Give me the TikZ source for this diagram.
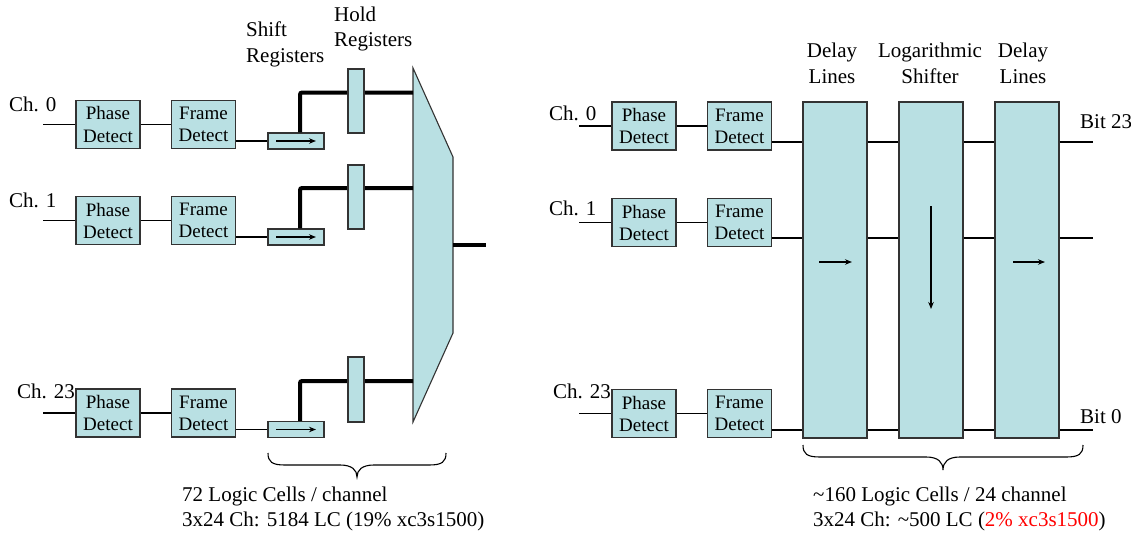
\documentclass[tikz,border=0pt]{standalone}
\usepackage{fontspec}
\setmainfont{Liberation Serif}
\usetikzlibrary{arrows.meta}
\definecolor{boxc}{HTML}{B9E0E3}
\definecolor{hotred}{HTML}{FF0000}
\begin{document}
\begin{tikzpicture}[x=1pt,y=-1pt,
 blk/.style={draw=black!80, fill=boxc, line width=1.1pt, inner sep=0pt, align=center, font=\fontsize{19}{22}\selectfont},
 det/.style={blk, minimum width=64pt, minimum height=48pt},
 sreg/.style={blk, minimum width=56pt, minimum height=16pt},
 hreg/.style={blk, minimum width=16pt, minimum height=64pt},
 tall/.style={blk, minimum width=64pt, minimum height=336pt},
 muxst/.style={draw=black!80, fill=boxc, line width=1.1pt},
 wire/.style={line width=1.2pt},
 bus/.style={line width=4pt, rounded corners=2pt},
 lbl/.style={font=\fontsize{21}{26}\selectfont, inner sep=0pt},
 flow/.style={line width=1.2pt, -{Stealth[length=7pt,width=5.5pt]}},
]
\useasboundingbox (0,0) rectangle (1131,535);

% ================= LEFT PANEL =================
% headers
\node[lbl, anchor=base west] (shA) at (246,37) {Shift};
\node[lbl, anchor=base west] (shB) at (246,63) {Registers};
\node[lbl, anchor=base west] (hoA) at (334,22) {Hold};
\node[lbl, anchor=base west] (hoB) at (334,47) {Registers};

% channel labels
\node[lbl, anchor=base west] (lc0) at (9,111) {Ch. 0};
\node[lbl, anchor=base west] (lc1) at (9,207.5) {Ch. 1};
\node[lbl, anchor=base west] (lc23) at (17,398) {Ch. 23};

% input coordinates
\coordinate (LI0) at (43,124.5);
\coordinate (LI1) at (43,220.5);
\coordinate (LI23) at (43,413);

% detectors
\node[det] (LP0) at (108,124.5) {Phase\\Detect};
\node[det] (LF0) at (203.5,124.5) {Frame\\Detect};
\node[det] (LP1) at (108,220.5) {Phase\\Detect};
\node[det] (LF1) at (203.5,220.5) {Frame\\Detect};
\node[det] (LP23) at (108,413) {Phase\\Detect};
\node[det] (LF23) at (203.5,413) {Frame\\Detect};

% shift registers
\node[sreg] (S0) at (296,141) {};
\node[sreg] (S1) at (296,237) {};
\node[sreg] (S23) at (296,429.5) {};

% mux
\draw[muxst] (413,68) -- (453,157) -- (453,333) -- (413,422) -- cycle;
\coordinate (M0) at (413,92.5);
\coordinate (M1) at (413,188);
\coordinate (M23) at (413,381);
\coordinate (Mout) at (453,245);
\coordinate (Out) at (486,245);

% wires
\foreach \r in {0,1,23}{
  \draw[wire] (LI\r) -- (LP\r.west);
  \draw[wire] (LP\r.east) -- (LF\r.west);
  \draw[wire] (LF\r.east |- S\r.west) -- (S\r.west);
  \draw[flow] ([xshift=-20pt]S\r.center) -- ([xshift=20pt]S\r.center);
  \draw[bus] ([xshift=4pt]S\r.north) |- (M\r);
}
\draw[line width=4pt] (Mout) -- (Out);

% hold registers
\node[hreg] (H0) at (356,101) {};
\node[hreg] (H1) at (356,197) {};
\node[hreg, minimum height=65pt] (H23) at (356,389.5) {};

% brace
\draw[wire, line width=1.1pt] (268,453) .. controls (268,462) and (272,465) .. (285,465) -- (340,465)
  .. controls (352,465) and (357,470) .. (357,477)
  .. controls (357,470) and (362,465) .. (374,465) -- (429,465)
  .. controls (442,465) and (446,462) .. (446,453);

\node[lbl, anchor=base west] (lt1) at (182,501) {72 Logic Cells / channel};
\node[lbl, anchor=base west] (lt2) at (182,526) {3x24 Ch: 5184 LC (19\% xc3s1500)};

% ================= RIGHT PANEL =================
\node[lbl, anchor=base] (dA) at (832,57) {Delay};
\node[lbl, anchor=base] (dB) at (832,83) {Lines};
\node[lbl, anchor=base] (lA) at (930,57) {Logarithmic};
\node[lbl, anchor=base] (lB) at (930,83) {Shifter};
\node[lbl, anchor=base] (eA) at (1023,57) {Delay};
\node[lbl, anchor=base] (eB) at (1023,83) {Lines};

\node[lbl, anchor=base west] (rc0) at (549,120) {Ch. 0};
\node[lbl, anchor=base west] (rc1) at (549,215) {Ch. 1};
\node[lbl, anchor=base west] (rc23) at (553,398) {Ch. 23};

\coordinate (RI0) at (579,126);
\coordinate (RI1) at (579,222.5);
\coordinate (RI23) at (579,413.5);

\node[det] (RP0) at (644,126) {Phase\\Detect};
\node[det] (RF0) at (739.5,126) {Frame\\Detect};
\node[det] (RP1) at (644,222.5) {Phase\\Detect};
\node[det] (RF1) at (739.5,222.5) {Frame\\Detect};
\node[det] (RP23) at (644,413.5) {Phase\\Detect};
\node[det] (RF23) at (739.5,413.5) {Frame\\Detect};

\node[tall] (D1) at (835,270) {};
\node[tall] (LS) at (931,270) {};
\node[tall] (D2) at (1027,270) {};

\coordinate (RO0) at (1093,142);
\coordinate (RO1) at (1093,238);
\coordinate (RO23) at (1093,430);
\coordinate (RY0) at (0,142);
\coordinate (RY1) at (0,238);
\coordinate (RY23) at (0,430);

\foreach \r in {0,1,23}{
  \draw[wire] (RI\r) -- (RP\r.west);
  \draw[wire] (RP\r.east) -- (RF\r.west);
  \draw[wire] (RF\r.east |- RY\r) -- (D1.west |- RY\r);
  \draw[wire] (D1.east |- RY\r) -- (LS.west |- RY\r);
  \draw[wire] (LS.east |- RY\r) -- (D2.west |- RY\r);
  \draw[wire] (D2.east |- RY\r) -- (RO\r);
}

\draw[flow] ([xshift=-16pt,yshift=8pt]D1.center) -- ([xshift=17pt,yshift=8pt]D1.center);
\draw[flow] ([xshift=-14pt,yshift=8pt]D2.center) -- ([xshift=18pt,yshift=8pt]D2.center);
\draw[flow] ([yshift=64pt]LS.center) -- ([yshift=-39pt]LS.center);

\node[lbl, anchor=base west] (b23) at (1080,128) {Bit 23};
\node[lbl, anchor=base west] (b0) at (1080,423) {Bit 0};

\draw[wire, line width=1.1pt] (803,445) .. controls (803,454) and (807,457) .. (820,457) -- (926,457)
  .. controls (938,457) and (943,462) .. (943,470)
  .. controls (943,462) and (948,457) .. (960,457) -- (1066,457)
  .. controls (1079,457) and (1083,454) .. (1083,445);

\node[lbl, anchor=base west] (rt1) at (813,501) {\textasciitilde160 Logic Cells / 24 channel};
\node[lbl, anchor=base west] (rt2) at (813,526) {3x24 Ch: \textasciitilde500 LC (\textcolor{hotred}{2\% xc3s1500})};
\end{tikzpicture}
\end{document}
